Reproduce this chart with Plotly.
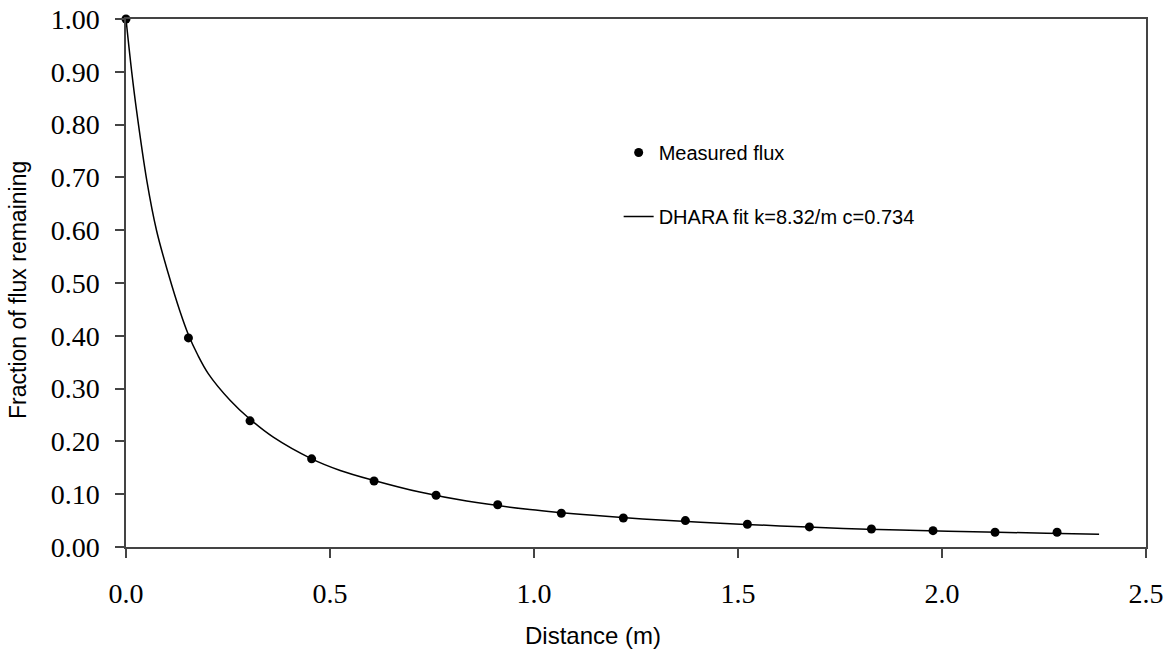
import plotly.graph_objects as go

# Measured flux points (distance in m, fraction of flux remaining)
measured_x = [0.0, 0.153, 0.304, 0.455, 0.608, 0.760, 0.911, 1.067, 1.219, 1.371,
              1.523, 1.675, 1.827, 1.978, 2.130, 2.282]
measured_y = [1.000, 0.396, 0.239, 0.167, 0.125, 0.098, 0.080, 0.064, 0.055, 0.050,
              0.043, 0.038, 0.034, 0.031, 0.028, 0.028]

# DHARA fit curve
fit_x = [0.0, 0.014, 0.026, 0.051, 0.075, 0.104, 0.132, 0.153, 0.175, 0.202, 0.255,
         0.304, 0.361, 0.455, 0.525, 0.608, 0.720, 0.835, 0.990, 1.145, 1.309, 1.456,
         1.603, 1.758, 1.897, 2.077, 2.256, 2.385]
fit_y = [1.000, 0.900, 0.826, 0.694, 0.599, 0.517, 0.447, 0.402, 0.365, 0.328, 0.278,
         0.242, 0.208, 0.167, 0.145, 0.126, 0.104, 0.087, 0.071, 0.060, 0.051, 0.045,
         0.040, 0.035, 0.032, 0.029, 0.026, 0.024]

measured_name = "Measured flux"
fit_name = "DHARA fit k=8.32/m c=0.734"
x_title = "Distance (m)"
y_title = "Fraction of flux remaining"

fig = go.Figure()
fig.add_trace(go.Scatter(
    x=measured_x, y=measured_y, mode="markers", name=measured_name,
    marker=dict(color="black", size=9), cliponaxis=False, legendgroup="a"))
fig.add_trace(go.Scatter(
    x=fit_x, y=fit_y, mode="lines", name=fit_name, line_shape="spline",
    line=dict(color="black", width=1.5), cliponaxis=False, legendgroup="b"))

axis_common = dict(showline=True, linecolor="#444", linewidth=1.5, mirror=True,
                   ticks="outside", ticklen=9, tickcolor="#444", tickwidth=1.5,
                   showgrid=False, zeroline=False, automargin=False,
                   ticklabeloverflow="allow",
                   tickfont=dict(family="Liberation Serif", size=28, color="black"))

fig.update_layout(
    width=1167, height=650,
    margin=dict(l=126, r=21, t=19, b=103, autoexpand=False),
    paper_bgcolor="white", plot_bgcolor="white",
    xaxis=dict(range=[0, 2.5], dtick=0.5, tickformat=".1f", ticklabelstandoff=12,
               **axis_common),
    yaxis=dict(range=[0, 1.0], dtick=0.1, tickformat=".2f", ticklabelstandoff=10,
               **axis_common),
    showlegend=True,
    legend=dict(x=0.483, y=0.784, xanchor="left", yanchor="top",
                font=dict(family="Liberation Sans", size=20, color="black"),
                tracegroupgap=35, bgcolor="rgba(0,0,0,0)"),
    annotations=[
        dict(text=x_title, xref="paper", yref="paper", x=(593 - 126) / 1020,
             y=-(635 - 547) / 528, xanchor="center", yanchor="middle",
             showarrow=False, font=dict(family="Liberation Sans", size=24, color="black")),
        dict(text=y_title, xref="paper", yref="paper", x=-(126 - 18) / 1020,
             y=(547 - 290) / 528, xanchor="center", yanchor="middle", textangle=-90,
             showarrow=False, font=dict(family="Liberation Sans", size=23, color="black")),
    ],
)

fig.write_html("out.html")
